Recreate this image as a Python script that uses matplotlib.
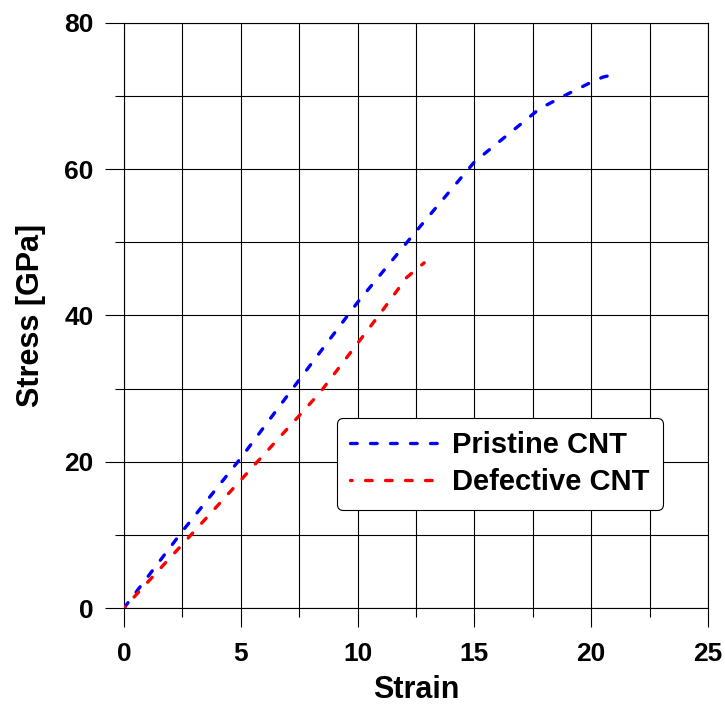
import numpy as np
import matplotlib
matplotlib.use("Agg")
import matplotlib.pyplot as plt

# data
strain_pristine = [0, 2.5, 5, 7.5, 10, 12.5, 15, 17.8, 19, 20, 20.5, 20.9]
stress_pristine = [0, 10.5, 20.5, 31.2, 41.8, 51.5, 61, 68.3, 70.3, 71.9, 72.6, 72.9]

strain_defect = [0, 2.5, 5, 7.5, 8.4, 10, 11, 12.1, 12.85]
stress_defect = [0, 8.7, 17.5, 26.3, 29.5, 36.2, 40.4, 45.2, 47.2]

labels = ["Pristine CNT", "Defective CNT"]

plt.rcParams["font.family"] = ["Liberation Sans", "DejaVu Sans"]
plt.rcParams["font.weight"] = "bold"

fig = plt.figure(figsize=(7.25, 7.07), dpi=100)
ax = fig.add_axes([0.171, 0.14, 0.8056, 0.8275])

ax.plot(strain_pristine, stress_pristine, color="blue", lw=2.4,
        linestyle=(0, (2.0, 4.0)), dash_capstyle="round", label=labels[0], zorder=3)
ax.plot(strain_defect, stress_defect, color="red", lw=2.4,
        linestyle=(1.5, (2.0, 4.0)), dash_capstyle="round", label=labels[1], zorder=3)

ax.set_xlim(0, 25)
ax.set_ylim(0, 80)
ax.set_xticks(np.arange(0, 26, 5))
ax.set_xticks(np.arange(2.5, 25, 5), minor=True)
ax.set_yticks(np.arange(0, 81, 20))
ax.set_yticks(np.arange(10, 80, 20), minor=True)

ax.grid(which="both", color="black", lw=0.8)
ax.set_axisbelow(True)
for s in ax.spines.values():
    s.set_linewidth(0.8)
    s.set_color("black")

ax.tick_params(which="major", direction="out", length=13.7, width=0.8, labelsize=19)
ax.tick_params(which="minor", direction="out", length=6.5, width=0.8)
ax.tick_params(axis="x", which="major", pad=11)
ax.tick_params(axis="y", which="major", pad=8)

ax.set_xlabel("Strain", fontsize=22, fontweight="bold", labelpad=6)
ax.set_ylabel("Stress [GPa]", fontsize=22, fontweight="bold", labelpad=13)

leg = ax.legend(loc="upper left", bbox_to_anchor=(0.3647, 0.3248), fontsize=21,
                handlelength=3.0, handletextpad=0.5, borderpad=0.45,
                borderaxespad=0, labelspacing=0.32, fancybox=True, framealpha=1)
leg.get_frame().set_edgecolor("black")
leg.get_frame().set_linewidth(0.8)
for t in leg.get_texts():
    t.set_fontweight("bold")

fig.savefig("out.png", dpi=100)
